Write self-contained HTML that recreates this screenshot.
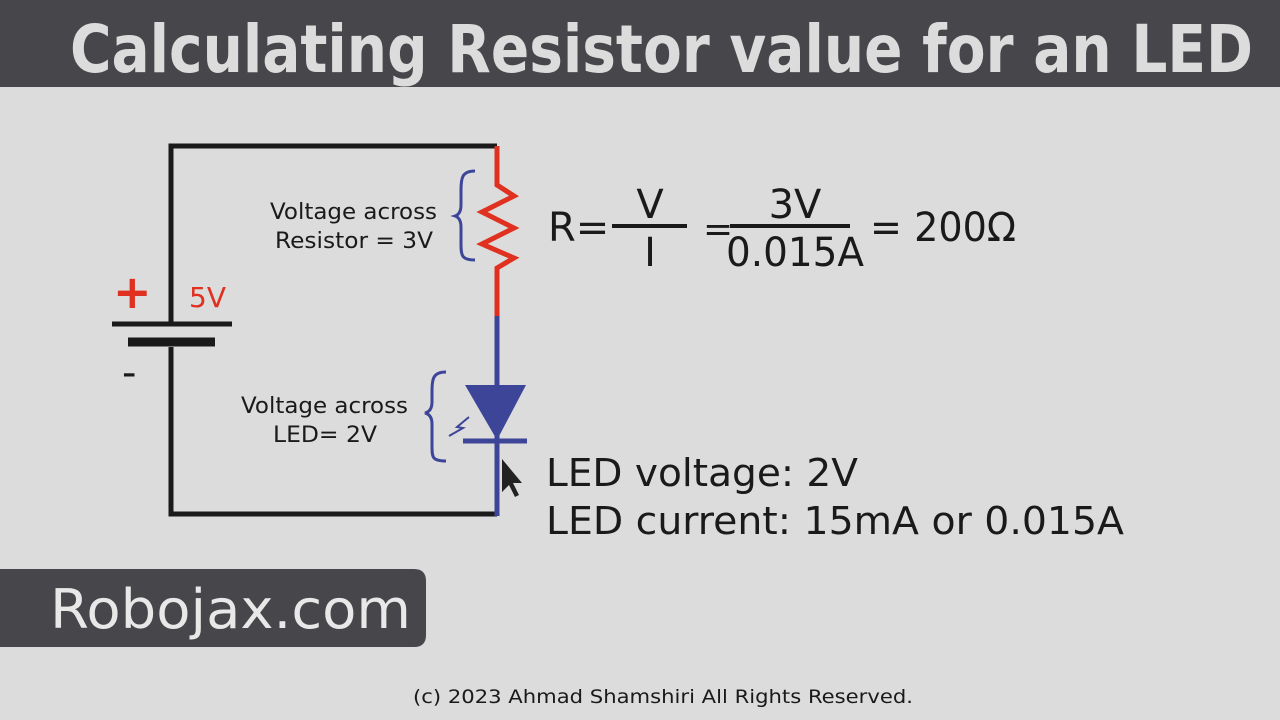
<!DOCTYPE html>
<html><head><meta charset="utf-8"><style>
html,body{margin:0;padding:0;width:1280px;height:720px;overflow:hidden;background:#dcdcdc}
svg{display:block}
text{font-family:"DejaVu Sans","Liberation Sans",sans-serif}
</style></head><body>
<svg width="1280" height="720" viewBox="0 0 1280 720" xmlns="http://www.w3.org/2000/svg">
<rect width="1280" height="720" fill="#dcdcdc"/>
<rect width="1280" height="87" fill="#47464a"/>
<text x="70" y="72" font-size="66" font-weight="bold" fill="#dcdcdc" textLength="1183" lengthAdjust="spacingAndGlyphs" style="font-family:'DejaVu Sans Condensed','DejaVu Sans',sans-serif">Calculating Resistor value for an LED</text>
<path d="M497 146 H171 V323 M171 347 V514 H497" fill="none" stroke="#1a1a1a" stroke-width="5"/>
<line x1="112" y1="324" x2="232" y2="324" stroke="#1a1a1a" stroke-width="5"/>
<line x1="128" y1="342" x2="215" y2="342" stroke="#1a1a1a" stroke-width="9"/>
<text x="113" y="308" font-size="46" font-weight="bold" fill="#e03020">+</text>
<text x="122" y="386" font-size="40" fill="#1a1a1a">-</text>
<text x="189" y="307" font-size="28" fill="#e03020">5V</text>
<path d="M497 146 V185 L514 196 L482 212 L514 228 L482 244 L514 258 L497 268 V316" fill="none" stroke="#e03020" stroke-width="5"/>
<line x1="497" y1="316" x2="497" y2="516" stroke="#3d4599" stroke-width="5"/>
<polygon points="465,385 526,385 497,440" fill="#3d4599"/>
<line x1="463" y1="441" x2="527" y2="441" stroke="#3d4599" stroke-width="5"/>
<path d="M469 417 L457 427 L463 428 L449 436" fill="none" stroke="#3d4599" stroke-width="2"/>
<path d="M475 171 C462 171 461 178 461 190 V205 C461 212 458 215 455 216 C458 217 461 220 461 227 V244 C461 256 462 260 475 260" fill="none" stroke="#3d4599" stroke-width="3"/>
<path d="M446 372 C433 372 432 379 432 391 V402 C432 409 429 412 425 413 C429 414 432 417 432 424 V447 C432 458 433 461 446 461" fill="none" stroke="#3d4599" stroke-width="3"/>
<text x="270" y="219" font-size="22" fill="#1a1a1a" textLength="167" lengthAdjust="spacingAndGlyphs">Voltage across</text>
<text x="275" y="248" font-size="22" fill="#1a1a1a" textLength="158" lengthAdjust="spacingAndGlyphs">Resistor = 3V</text>
<text x="241" y="413" font-size="22" fill="#1a1a1a" textLength="167" lengthAdjust="spacingAndGlyphs">Voltage across</text>
<text x="273" y="442" font-size="22" fill="#1a1a1a" textLength="104" lengthAdjust="spacingAndGlyphs">LED= 2V</text>
<path d="M502 459 L502 492 L509 485 L515 497 L519 495 L513 483 L522 483 Z" fill="#222"/>
<text x="548" y="241" font-size="40" fill="#1a1a1a">R=</text>
<text x="650" y="218" font-size="40" fill="#1a1a1a" text-anchor="middle">V</text>
<line x1="612" y1="226" x2="687" y2="226" stroke="#1a1a1a" stroke-width="4"/>
<text x="650" y="266" font-size="40" fill="#1a1a1a" text-anchor="middle">I</text>
<text x="703" y="241" font-size="36" fill="#1a1a1a">=</text>
<text x="795" y="218" font-size="40" fill="#1a1a1a" text-anchor="middle">3V</text>
<line x1="730" y1="226" x2="850" y2="226" stroke="#1a1a1a" stroke-width="4"/>
<text x="726" y="266" font-size="40" fill="#1a1a1a" textLength="138" lengthAdjust="spacingAndGlyphs">0.015A</text>
<text x="870" y="241" font-size="40" fill="#1a1a1a" textLength="146" lengthAdjust="spacingAndGlyphs">= 200Ω</text>
<text x="546" y="486" font-size="38" fill="#1a1a1a" textLength="312" lengthAdjust="spacingAndGlyphs">LED voltage: 2V</text>
<text x="546" y="534" font-size="38" fill="#1a1a1a" textLength="578" lengthAdjust="spacingAndGlyphs">LED current: 15mA or 0.015A</text>
<path d="M0 569 H414 Q426 569 426 581 V635 Q426 647 414 647 H0 Z" fill="#47464a"/>
<text x="50" y="628" font-size="54" fill="#e8e8e8" textLength="361" lengthAdjust="spacingAndGlyphs">Robojax.com</text>
<text x="413" y="703" font-size="19" fill="#1a1a1a" textLength="500" lengthAdjust="spacingAndGlyphs">(c) 2023 Ahmad Shamshiri All Rights Reserved.</text>
</svg>
</body></html>
